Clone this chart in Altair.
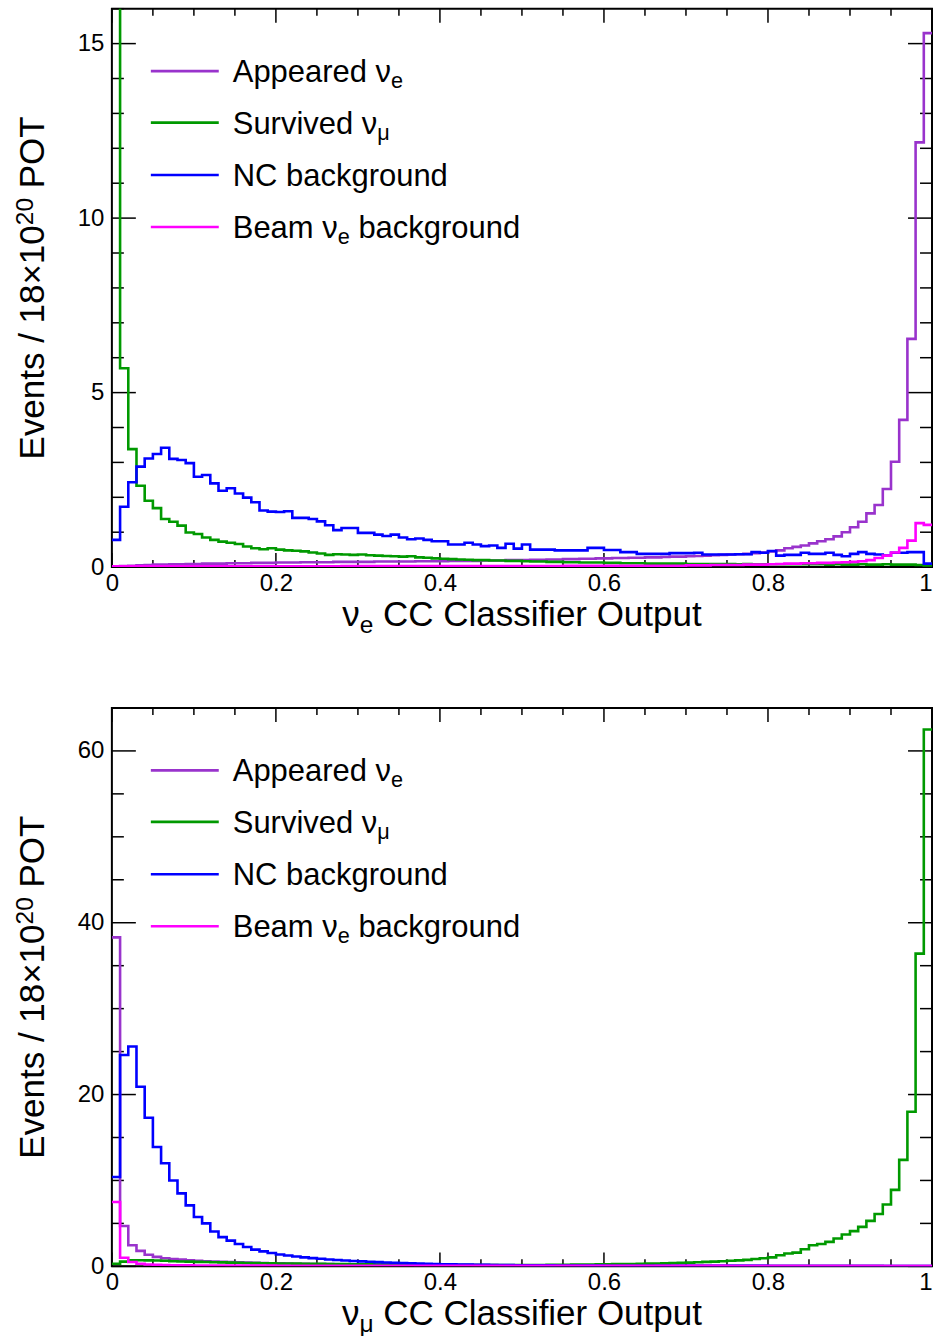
import altair as alt
import pandas as pd

FONT = "Liberation Sans"

# ---------------- data: events per 0.01-wide bin, 100 bins from 0 to 1 ----------------
BIN_LEFT = [i / 100 for i in range(100)]

# nu_e CC classifier output (top panel)
NUE_APPEARED = [
    0.02, 0.03, 0.04, 0.05, 0.06, 0.07, 0.07, 0.08, 0.08, 0.09,
    0.09, 0.10, 0.10, 0.10, 0.11, 0.11, 0.11, 0.12, 0.12, 0.12,
    0.13, 0.13, 0.13, 0.14, 0.14, 0.14, 0.14, 0.15, 0.15, 0.15,
    0.15, 0.15, 0.16, 0.16, 0.16, 0.16, 0.16, 0.17, 0.17, 0.17,
    0.17, 0.18, 0.18, 0.18, 0.18, 0.19, 0.19, 0.19, 0.20, 0.20,
    0.20, 0.21, 0.21, 0.22, 0.22, 0.23, 0.23, 0.24, 0.24, 0.25,
    0.25, 0.26, 0.26, 0.27, 0.27, 0.28, 0.28, 0.29, 0.30, 0.30,
    0.31, 0.32, 0.33, 0.34, 0.35, 0.36, 0.37, 0.38, 0.40, 0.42,
    0.45, 0.48, 0.54, 0.58, 0.62, 0.68, 0.74, 0.80, 0.88, 1.00,
    1.14, 1.30, 1.54, 1.78, 2.24, 3.02, 4.22, 6.54, 12.17, 15.30,
]
NUE_SURVIVED = [
    30.0, 5.70, 3.38, 2.33, 1.90, 1.69, 1.38, 1.30, 1.19, 0.99,
    0.95, 0.85, 0.78, 0.73, 0.70, 0.66, 0.59, 0.54, 0.51, 0.54,
    0.50, 0.48, 0.47, 0.45, 0.42, 0.39, 0.35, 0.37, 0.36, 0.35,
    0.36, 0.34, 0.33, 0.32, 0.31, 0.30, 0.31, 0.28, 0.27, 0.25,
    0.24, 0.23, 0.22, 0.21, 0.20, 0.20, 0.19, 0.19, 0.18, 0.18,
    0.17, 0.16, 0.16, 0.15, 0.15, 0.14, 0.14, 0.13, 0.13, 0.13,
    0.12, 0.12, 0.11, 0.11, 0.11, 0.10, 0.10, 0.10, 0.10, 0.10,
    0.09, 0.09, 0.09, 0.09, 0.09, 0.09, 0.08, 0.09, 0.08, 0.08,
    0.08, 0.08, 0.08, 0.08, 0.08, 0.08, 0.08, 0.07, 0.08, 0.07,
    0.07, 0.08, 0.07, 0.07, 0.08, 0.07, 0.07, 0.07, 0.06, 0.05,
]
NUE_NC = [
    0.78, 1.73, 2.43, 2.88, 3.11, 3.24, 3.42, 3.10, 3.07, 2.98,
    2.59, 2.64, 2.40, 2.19, 2.26, 2.11, 1.99, 1.86, 1.62, 1.59,
    1.58, 1.60, 1.41, 1.41, 1.38, 1.31, 1.20, 1.06, 1.12, 1.12,
    0.98, 0.98, 0.93, 0.89, 0.93, 0.85, 0.80, 0.82, 0.78, 0.74,
    0.74, 0.65, 0.65, 0.70, 0.65, 0.60, 0.62, 0.55, 0.67, 0.53,
    0.65, 0.50, 0.50, 0.50, 0.48, 0.48, 0.48, 0.48, 0.55, 0.55,
    0.49, 0.49, 0.43, 0.43, 0.38, 0.38, 0.38, 0.38, 0.40, 0.40,
    0.40, 0.41, 0.36, 0.36, 0.36, 0.36, 0.37, 0.37, 0.43, 0.41,
    0.46, 0.33, 0.35, 0.35, 0.41, 0.38, 0.38, 0.41, 0.35, 0.31,
    0.38, 0.43, 0.38, 0.36, 0.33, 0.41, 0.41, 0.43, 0.43, 0.10,
]
NUE_BEAM = [
    0.02, 0.02, 0.02, 0.02, 0.02, 0.02, 0.02, 0.02, 0.02, 0.02,
    0.02, 0.02, 0.02, 0.02, 0.02, 0.02, 0.02, 0.02, 0.02, 0.02,
    0.02, 0.02, 0.02, 0.02, 0.02, 0.02, 0.02, 0.02, 0.03, 0.03,
    0.03, 0.03, 0.03, 0.03, 0.03, 0.03, 0.03, 0.03, 0.03, 0.03,
    0.03, 0.03, 0.03, 0.03, 0.03, 0.03, 0.03, 0.03, 0.03, 0.03,
    0.03, 0.03, 0.03, 0.03, 0.03, 0.04, 0.04, 0.04, 0.04, 0.04,
    0.04, 0.04, 0.04, 0.04, 0.04, 0.04, 0.04, 0.04, 0.04, 0.04,
    0.05, 0.05, 0.05, 0.06, 0.06, 0.06, 0.06, 0.07, 0.07, 0.07,
    0.08, 0.09, 0.10, 0.10, 0.11, 0.11, 0.12, 0.12, 0.13, 0.14,
    0.15, 0.17, 0.20, 0.26, 0.33, 0.42, 0.55, 0.76, 1.26, 1.21,
]

# nu_mu CC classifier output (bottom panel)
NUMU_APPEARED = [
    38.3, 4.70, 2.45, 1.80, 1.35, 1.10, 0.95, 0.85, 0.78, 0.70,
    0.65, 0.60, 0.56, 0.52, 0.49, 0.46, 0.43, 0.41, 0.39, 0.37,
    0.35, 0.33, 0.31, 0.30, 0.28, 0.27, 0.26, 0.25, 0.24, 0.23,
    0.22, 0.21, 0.20, 0.20, 0.19, 0.18, 0.18, 0.17, 0.17, 0.16,
    0.16, 0.15, 0.15, 0.15, 0.14, 0.14, 0.14, 0.13, 0.13, 0.13,
    0.12, 0.12, 0.12, 0.11, 0.11, 0.11, 0.11, 0.10, 0.10, 0.10,
    0.10, 0.10, 0.09, 0.09, 0.09, 0.09, 0.09, 0.09, 0.08, 0.08,
    0.08, 0.08, 0.08, 0.08, 0.08, 0.07, 0.07, 0.07, 0.07, 0.07,
    0.07, 0.07, 0.07, 0.07, 0.06, 0.06, 0.06, 0.06, 0.06, 0.06,
    0.06, 0.06, 0.06, 0.06, 0.05, 0.05, 0.05, 0.05, 0.05, 0.05,
]
NUMU_SURVIVED = [
    0.30, 0.55, 0.70, 0.72, 0.70, 0.68, 0.65, 0.60, 0.57, 0.55,
    0.52, 0.50, 0.48, 0.46, 0.44, 0.42, 0.40, 0.38, 0.36, 0.35,
    0.34, 0.33, 0.32, 0.31, 0.30, 0.29, 0.28, 0.27, 0.26, 0.25,
    0.24, 0.23, 0.22, 0.21, 0.20, 0.20, 0.19, 0.19, 0.18, 0.18,
    0.17, 0.17, 0.16, 0.16, 0.16, 0.15, 0.15, 0.15, 0.15, 0.15,
    0.15, 0.16, 0.16, 0.17, 0.18, 0.19, 0.20, 0.21, 0.22, 0.24,
    0.25, 0.26, 0.27, 0.28, 0.30, 0.32, 0.33, 0.35, 0.38, 0.41,
    0.44, 0.47, 0.52, 0.55, 0.60, 0.65, 0.70, 0.75, 0.85, 0.95,
    1.05, 1.30, 1.50, 1.60, 2.00, 2.45, 2.60, 2.85, 3.25, 3.70,
    4.10, 4.60, 5.30, 6.10, 7.20, 8.90, 12.40, 18.00, 36.40, 62.50,
]
NUMU_NC = [
    10.4, 24.6, 25.6, 20.9, 17.3, 13.9, 12.0, 10.0, 8.50, 7.10,
    5.75, 5.00, 4.05, 3.40, 3.00, 2.60, 2.25, 1.95, 1.75, 1.55,
    1.38, 1.27, 1.15, 1.05, 0.96, 0.88, 0.80, 0.74, 0.68, 0.63,
    0.58, 0.53, 0.49, 0.45, 0.41, 0.38, 0.35, 0.32, 0.30, 0.27,
    0.25, 0.23, 0.21, 0.20, 0.18, 0.17, 0.16, 0.15, 0.14, 0.13,
    0.12, 0.12, 0.11, 0.11, 0.10, 0.10, 0.10, 0.09, 0.09, 0.09,
    0.08, 0.08, 0.08, 0.08, 0.08, 0.07, 0.07, 0.07, 0.07, 0.07,
    0.07, 0.06, 0.06, 0.06, 0.06, 0.06, 0.06, 0.06, 0.06, 0.06,
    0.05, 0.05, 0.05, 0.05, 0.05, 0.05, 0.05, 0.05, 0.05, 0.05,
    0.05, 0.05, 0.05, 0.05, 0.05, 0.05, 0.05, 0.05, 0.05, 0.05,
]
NUMU_BEAM = [
    7.50, 1.00, 0.50, 0.30, 0.22, 0.18, 0.15, 0.13, 0.12, 0.11,
    0.10, 0.10, 0.10, 0.10, 0.09, 0.09, 0.09, 0.09, 0.09, 0.09,
    0.08, 0.08, 0.08, 0.08, 0.08, 0.08, 0.08, 0.08, 0.08, 0.08,
    0.08, 0.08, 0.08, 0.08, 0.07, 0.07, 0.07, 0.07, 0.07, 0.07,
    0.07, 0.07, 0.07, 0.07, 0.07, 0.07, 0.07, 0.07, 0.07, 0.07,
    0.06, 0.06, 0.06, 0.06, 0.06, 0.06, 0.06, 0.06, 0.06, 0.06,
    0.06, 0.06, 0.06, 0.06, 0.06, 0.06, 0.06, 0.06, 0.06, 0.06,
    0.06, 0.06, 0.06, 0.06, 0.06, 0.05, 0.05, 0.05, 0.05, 0.05,
    0.05, 0.05, 0.05, 0.05, 0.05, 0.05, 0.05, 0.05, 0.05, 0.05,
    0.05, 0.05, 0.05, 0.05, 0.05, 0.05, 0.05, 0.05, 0.05, 0.05,
]

LEGEND_MAIN = ["Appeared ν", "Survived ν", "NC background", "Beam ν"]
LEGEND_SUB = ["e", "μ", "", "e"]
LEGEND_TAIL = ["", "", "", " background"]
COLORS = ["#9933cc", "#009900", "#0000ff", "#ff00ff"]

X_MAJOR = [0, 0.2, 0.4, 0.6, 0.8, 1]
X_MINOR = [0.05, 0.1, 0.15, 0.25, 0.3, 0.35, 0.45, 0.5, 0.55,
           0.65, 0.7, 0.75, 0.85, 0.9, 0.95]
TOP_Y_MAJOR = [0, 5, 10, 15]
TOP_Y_MINOR = [1, 2, 3, 4, 6, 7, 8, 9, 11, 12, 13, 14, 16]
BOT_Y_MAJOR = [0, 20, 40, 60]
BOT_Y_MINOR = [5, 10, 15, 25, 30, 35, 45, 50, 55, 65]

# ---------------- layout constants ----------------
W, H = 821, 559
TITLE_FS = 35
LEG_FS = 31
SUB = 0.7
X_MAJ_LEN, X_MIN_LEN = 14, 7
Y_MAJ_LEN, Y_MIN_LEN = 24, 12
LEG_ROWS = [62.5, 114, 166.5, 218.5]
LINE_W = 2.6

ONE = pd.DataFrame({"d": [0]})

CW = {" ": 278, "/": 278, "×": 584, "ν": 500, "μ": 576, "A": 667, "B": 667,
      "C": 722, "E": 667, "N": 722, "O": 778, "P": 667, "S": 667, "T": 611,
      "a": 556, "b": 556, "c": 500, "d": 556, "e": 556, "f": 278, "g": 556,
      "i": 222, "k": 500, "l": 222, "m": 833, "n": 556, "o": 556, "p": 556,
      "r": 333, "s": 500, "t": 278, "u": 556, "v": 500}


def tw(s, size):
    return sum(CW.get(c, 556) for c in s) / 1000.0 * size


def txt(s, x, y, size, angle=0):
    # SVG collapses leading blanks, so shift the anchor instead
    lead = len(s) - len(s.lstrip(" "))
    shift = tw(" " * lead, size)
    s = s.lstrip(" ")
    if angle == 270:
        y = y - shift
    else:
        x = x + shift
    return alt.Chart(ONE).mark_text(
        text=s, font=FONT, fontSize=size, color="black", align="left",
        baseline="alphabetic", angle=angle
    ).encode(x=alt.value(x), y=alt.value(y))


def panel(series, ymax, ymaj, ymin, xsub):
    xs = alt.Scale(domain=[0, 1], nice=False, zero=False)
    ys = alt.Scale(domain=[0, ymax], nice=False, zero=True)
    xa = alt.Axis(values=X_MAJOR, format="~g", title=None, ticks=False,
                  domain=False, grid=False, labelPadding=4,
                  labelAlign={"condition": {"test": "datum.value == 1", "value": "right"},
                              "value": "center"})
    ya = alt.Axis(values=ymaj, format="d", title=None, ticks=False,
                  domain=False, grid=False, labelPadding=8)
    layers = [alt.Chart(ONE).mark_point(size=1, opacity=0).encode(
        x=alt.value(-110), y=alt.value(0))]

    # inward ticks on all four sides
    for vals, ln in ((X_MAJOR, X_MAJ_LEN), (X_MINOR, X_MIN_LEN)):
        d = pd.DataFrame({"t": vals})
        layers.append(alt.Chart(d).mark_rule(color="black", strokeWidth=1.5).encode(
            x=alt.X("t:Q", scale=xs, axis=xa), y=alt.value(H), y2=alt.value(H - ln)))
        layers.append(alt.Chart(d).mark_rule(color="black", strokeWidth=1.5).encode(
            x=alt.X("t:Q", scale=xs, axis=xa), y=alt.value(0), y2=alt.value(ln)))
    for vals, ln in ((ymaj, Y_MAJ_LEN), (ymin, Y_MIN_LEN)):
        d = pd.DataFrame({"t": vals})
        layers.append(alt.Chart(d).mark_rule(color="black", strokeWidth=1.5).encode(
            y=alt.Y("t:Q", scale=ys, axis=ya), x=alt.value(0), x2=alt.value(ln)))
        layers.append(alt.Chart(d).mark_rule(color="black", strokeWidth=1.5).encode(
            y=alt.Y("t:Q", scale=ys, axis=ya), x=alt.value(W), x2=alt.value(W - ln)))

    # step histograms
    for vals, col in zip(series, COLORS):
        df = pd.DataFrame({"x": BIN_LEFT + [1.0], "v": list(vals) + [vals[-1]]})
        layers.append(alt.Chart(df).mark_line(
            interpolate="step-after", clip=True, color=col, strokeWidth=LINE_W
        ).encode(x=alt.X("x:Q", scale=xs, axis=xa),
                 y=alt.Y("v:Q", scale=ys, axis=ya)))

    # legend
    for ry, main, sub, tail, col in zip(LEG_ROWS, LEGEND_MAIN, LEGEND_SUB, LEGEND_TAIL, COLORS):
        layers.append(alt.Chart(ONE).mark_rule(color=col, strokeWidth=2.6).encode(
            x=alt.value(39), x2=alt.value(107), y=alt.value(ry)))
        bx = 121
        by = ry + 11
        layers.append(txt(main, bx, by, LEG_FS))
        sx = bx + tw(main, LEG_FS)
        if sub:
            layers.append(txt(sub, sx, by + 6, LEG_FS * SUB))
            sx += tw(sub, LEG_FS * SUB)
        if tail:
            layers.append(txt(tail, sx, by, LEG_FS))

    # x title with subscript
    pieces = [("ν", False), (xsub, True), (" CC Classifier Output", False)]
    total = sum(tw(s, TITLE_FS * (SUB if sb else 1)) for s, sb in pieces)
    cx = W / 2 - total / 2
    for s, sb in pieces:
        fs = TITLE_FS * (SUB if sb else 1)
        layers.append(txt(s, cx, H + 59 + (7 if sb else 0), fs))
        cx += tw(s, fs)

    # y title with superscript (rotated)
    pieces = [("Events / 18×10", False), ("20", True), (" POT", False)]
    total = sum(tw(s, TITLE_FS * (SUB if sp else 1)) for s, sp in pieces)
    cy = H / 2 + total / 2
    for s, sp in pieces:
        fs = TITLE_FS * (SUB if sp else 1)
        layers.append(txt(s, -79 if sp else -68, cy, fs, angle=270))
        cy -= tw(s, fs)

    return alt.layer(*layers).properties(width=W, height=H)


top = panel([NUE_APPEARED, NUE_SURVIVED, NUE_NC, NUE_BEAM], 16,
            TOP_Y_MAJOR, TOP_Y_MINOR, "e")
bot = panel([NUMU_APPEARED, NUMU_SURVIVED, NUMU_NC, NUMU_BEAM], 65,
            BOT_Y_MAJOR, BOT_Y_MINOR, "μ")

chart = alt.vconcat(top, bot, spacing=141, bounds="flush").properties(
    padding={"left": 0, "top": 6, "right": 0, "bottom": 0},
    background="white",
).configure_view(stroke="black", strokeWidth=2).configure_axis(
    labelFont=FONT, labelFontSize=24, labelColor="black"
)

chart.save("out.html", embed_options={"renderer": "svg", "actions": False})
